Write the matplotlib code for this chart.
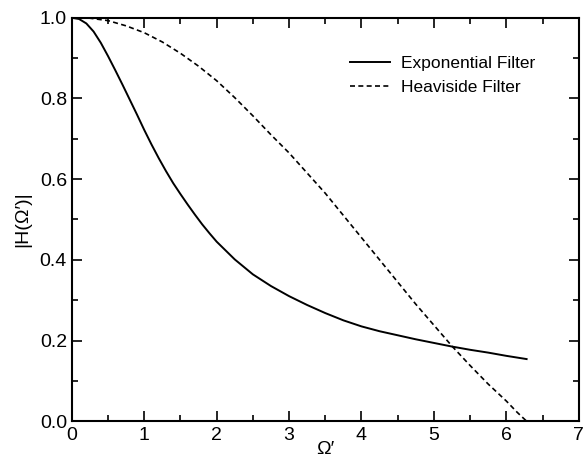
import matplotlib.pyplot as plt
from matplotlib.ticker import MultipleLocator

plt.rcParams['font.family'] = ['Liberation Sans', 'DejaVu Sans']

# values
omega_exp = [0, 0.1, 0.2, 0.3, 0.4, 0.5, 0.6, 0.7, 0.8, 0.9, 1.0, 1.1, 1.2, 1.3, 1.4, 1.5, 1.6, 1.7, 1.8, 1.9,
             2.0, 2.25, 2.5, 2.75, 3.0, 3.25, 3.5, 3.75, 4.0, 4.25, 4.5, 4.75, 5.0, 5.25, 5.5, 5.75, 6.0, 6.28]
h_exp = [1.0, 0.997, 0.986, 0.966, 0.938, 0.905, 0.87, 0.834, 0.797, 0.76, 0.722, 0.686, 0.652, 0.62, 0.59,
         0.563, 0.537, 0.512, 0.488, 0.466, 0.445, 0.401, 0.364, 0.335, 0.31, 0.288, 0.268, 0.25, 0.235,
         0.223, 0.213, 0.203, 0.194, 0.185, 0.177, 0.17, 0.162, 0.154]

omega_hev = [0, 0.25, 0.5, 0.75, 1.0, 1.25, 1.5, 1.75, 2.0, 2.25, 2.5, 2.75, 3.0, 3.25, 3.5,
             3.75, 4.0, 4.25, 4.5, 4.75, 5.0, 5.25, 5.5, 5.75, 6.0, 6.15, 6.28]
h_hev = [1.0, 0.999, 0.993, 0.98, 0.963, 0.94, 0.912, 0.88, 0.844, 0.802, 0.757, 0.71, 0.665, 0.615, 0.565,
         0.51, 0.455, 0.40, 0.345, 0.29, 0.238, 0.186, 0.138, 0.092, 0.05, 0.022, 0.0]

fig = plt.figure(figsize=(5.84, 4.68), dpi=100)
ax = fig.add_axes([0.123, 0.1, 0.868, 0.862])

ax.plot(omega_exp, h_exp, color='black', lw=1.4, ls='-', solid_joinstyle='round',
        label='Exponential Filter')
ax.plot(omega_hev, h_hev, color='black', lw=1.2, ls=(0, (3, 2)), label='Heaviside Filter')

ax.set_xlim(0, 7)
ax.set_ylim(0, 1.0)
ax.xaxis.set_major_locator(MultipleLocator(1))
ax.xaxis.set_minor_locator(MultipleLocator(0.5))
ax.yaxis.set_major_locator(MultipleLocator(0.2))
ax.yaxis.set_minor_locator(MultipleLocator(0.1))
ax.yaxis.set_major_formatter(plt.FormatStrFormatter('%.1f'))
ax.tick_params(which='both', direction='in', top=True, right=True, width=1.2, labelsize=14)
ax.tick_params(which='major', length=7)
ax.tick_params(which='minor', length=4)
ax.tick_params(axis='x', pad=4)
for s in ax.spines.values():
    s.set_linewidth(1.5)

ax.set_xlabel('Ω′', fontsize=14, labelpad=-2)
ax.set_ylabel('|H(Ω′)|', fontsize=14, labelpad=6)

ax.legend(loc='upper right', bbox_to_anchor=(0.945, 0.945), frameon=False, fontsize=12.5,
          handlelength=2.3, handletextpad=0.63, labelspacing=0.5)

fig.savefig('out.png', dpi=100)
